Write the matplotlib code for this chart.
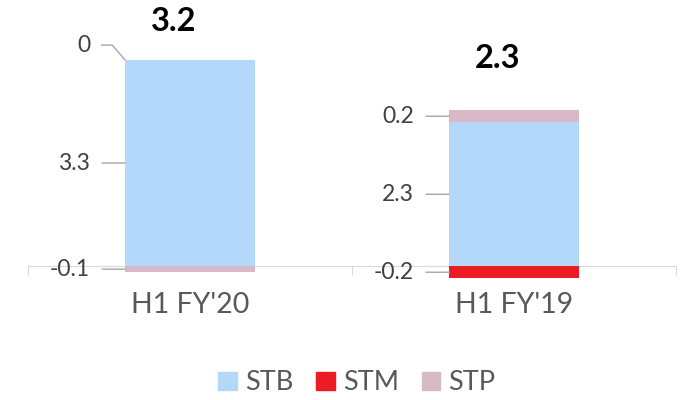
import matplotlib
matplotlib.use("Agg")
import matplotlib.pyplot as plt
from matplotlib.patches import Patch

# data
categories = ["H1 FY'20", "H1 FY'19"]
series_names = ["STB", "STM", "STP"]
stb = [3.3, 2.3]
stm = [0.0, -0.2]
stp = [-0.1, 0.2]
totals = [3.2, 2.3]

colors = ["#B4D8FA", "#ED1C24", "#D9B8C8"]
plt.rcParams['font.family'] = ['Lato', 'DejaVu Sans']

fig = plt.figure(figsize=(6.82, 4.0), dpi=100)
ax = fig.add_axes([28 / 682, 1 - 290 / 400, 648 / 682, 290 / 400])

bar_w = 0.4
x = list(range(len(categories)))
pos_bottom = [0.0] * len(categories)
neg_bottom = [0.0] * len(categories)

for name, vals, col in zip(series_names, [stb, stm, stp], colors):
    for i, v in enumerate(vals):
        if v >= 0:
            b = pos_bottom[i]
            pos_bottom[i] += v
        else:
            b = neg_bottom[i]
            neg_bottom[i] += v
        ax.bar(x[i], v, bar_w, bottom=b, color=col, zorder=2)
        left = x[i] - bar_w / 2
        if v == 0:
            # zero segment: label lifted with an elbow leader
            ax.annotate(f"{v:g}", xy=(left, b), xytext=(-35, 15),
                        textcoords='offset pixels', ha='right', va='center',
                        fontsize=16.5, color='#404040',
                        arrowprops=dict(arrowstyle='-', color='#a6a6a6', lw=1,
                                        shrinkA=6, shrinkB=0, relpos=(1, 0.5),
                                        connectionstyle="angle,angleA=0,angleB=131,rad=0"))
        else:
            ax.annotate(f"{v:g}", xy=(left, b + v / 2), xytext=(-35, 0),
                        textcoords='offset pixels', ha='right', va='center',
                        fontsize=16.5, color='#404040',
                        arrowprops=dict(arrowstyle='-', color='#a6a6a6', lw=1,
                                        shrinkA=6.5, shrinkB=0, relpos=(1, 0.5)))

# totals above the bars
total_offsets = [39, 51]
for i, t in enumerate(totals):
    ax.annotate(f"{t:g}", xy=(x[i], pos_bottom[i]), xytext=(-16, total_offsets[i]),
                textcoords='offset pixels', ha='center', va='center',
                fontsize=23.5, fontweight='bold', color='black')

ax.set_xlim(-0.5, len(categories) - 0.5)
ax.set_ylim(-24 / 62.4, 266 / 62.4)

for s in ['top', 'right', 'left']:
    ax.spines[s].set_visible(False)
ax.spines['bottom'].set_position(('data', 0))
ax.spines['bottom'].set_color('#d9d9d9')
ax.spines['bottom'].set_zorder(1)
ax.set_yticks([])

ax.set_xticks([-0.5, 0.5, 1.5], labels=[])
ax.tick_params(axis='x', which='major', length=6.5, color='#d9d9d9', direction='out')
ax.set_xticks(x, labels=categories, minor=True)
ax.tick_params(axis='x', which='minor', length=0, pad=19, labelsize=20.5, labelcolor='#595959')

handles = [Patch(color=c) for c in colors]
fig.legend(handles, series_names, loc='center', bbox_to_anchor=(357 / 682, 1 - 383 / 400),
           ncol=3, frameon=False, fontsize=19.5, labelcolor='#595959',
           handlelength=0.68, handleheight=0.68, handletextpad=0.3, columnspacing=0.85)

fig.savefig("out.png", dpi=100)
